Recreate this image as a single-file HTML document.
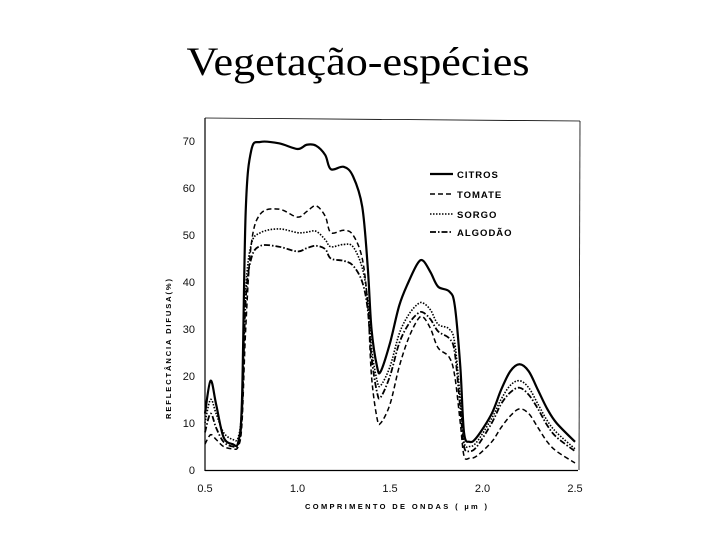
<!DOCTYPE html>
<html><head><meta charset="utf-8"><style>
html,body{margin:0;padding:0;background:#fff;}
svg{display:block;}
</style></head><body>
<svg id="chart" width="720" height="540" viewBox="0 0 720 540">
<text x="358" y="75" text-anchor="middle" font-family="Liberation Serif, serif" font-size="40" textLength="343" lengthAdjust="spacingAndGlyphs">Vegetação-espécies</text>
<g id="frame">
<line x1="205" y1="118" x2="205" y2="471" stroke="#000" stroke-width="1.2"/>
<line x1="205" y1="470.5" x2="578" y2="470.5" stroke="#000" stroke-width="1.2"/>
<line x1="205" y1="118" x2="580" y2="121" stroke="#000" stroke-width="0.8"/>
<line x1="580" y1="121" x2="579" y2="470" stroke="#000" stroke-width="0.8"/>
</g>
<g id="yticks" font-family="Liberation Sans, sans-serif" font-size="11" fill="#111"></g>
<g id="xticks" font-family="Liberation Sans, sans-serif" font-size="11" fill="#111"></g>
<text x="396" y="509" text-anchor="middle" font-family="Liberation Sans, sans-serif" font-size="7.5" font-weight="bold" textLength="182" lengthAdjust="spacing">COMPRIMENTO  DE  ONDAS ( µm )</text>
<text transform="translate(171,349) rotate(-90)" text-anchor="middle" font-family="Liberation Sans, sans-serif" font-size="7.5" font-weight="bold" textLength="140" lengthAdjust="spacing">REFLECTÂNCIA  DIFUSA(%)</text>
<g id="series"></g>
<g id="legend" font-family="Liberation Sans, sans-serif" font-size="9.5" font-weight="bold" letter-spacing="1"></g>
</svg>
<script>
const xs = [0.5,0.53,0.56,0.6,0.65,0.68,0.7,0.72,0.75,0.8,0.9,1.0,1.05,1.1,1.15,1.18,1.25,1.3,1.35,1.38,1.4,1.43,1.45,1.5,1.55,1.6,1.65,1.68,1.72,1.76,1.82,1.85,1.88,1.9,1.93,1.97,2.05,2.1,2.15,2.2,2.25,2.3,2.35,2.4,2.5];
const citros = [12,19,14,7,5.5,6,15,55,68,69.8,69.5,68.3,69.2,69,67,64,64.5,62.5,56,43,30,22,21,27,35,40,44,44.5,42,39,38,35,22,8,6,7,12,17,21,22.5,21,17,13,10,6];
const tomate = [5.5,7.5,6.5,5,4.5,5,10,30,48,54.5,55.5,53.8,55,56.2,54,50.5,51,50,45,35,20,11,10,14,22,28,32,32.5,30,26,24,20,10,3,2.5,3,6,9,11.5,13,12,9,6,4,1.5];
const sorgo = [10,15,12,8,6.5,7,14,38,48,50.5,51.3,50.5,50.6,50.8,49,47.5,48,47.5,43,36,26,19,18,22,29,33,35.3,35.5,34,31,30,27,15,6,5,6,11,15,18,19,17.5,14,10.5,8,4.5];
const algodao = [8,12,9,6,5,5.5,12,36,45,47.7,47.5,46.5,47.2,47.7,47,45,44.5,43.5,40,34,24,16.5,15.5,20,27,31,33.3,33.5,32,29.5,28,25,13,5,4,5,10,14,16.5,17.5,16,13,9.5,7,4];
const yTicks = [0,10,20,30,40,50,60,70];
const xTicks = ["0.5","1.0","1.5","2.0","2.5"];
const seriesNames = ["CITROS","TOMATE","SORGO","ALGODÃO"];

const NS="http://www.w3.org/2000/svg";
function sx(v){return 205+(v-0.5)*185;}
function sy(v){return 470-v*4.7;}
const yg=document.getElementById('yticks');
yTicks.forEach(v=>{const t=document.createElementNS(NS,'text');t.setAttribute('x',195);t.setAttribute('y',sy(v)+4);t.setAttribute('text-anchor','end');t.textContent=v;


yg.appendChild(t);});
const xg=document.getElementById('xticks');
xTicks.forEach(v=>{const t=document.createElementNS(NS,'text');t.setAttribute('x',sx(parseFloat(v)));t.setAttribute('y',492);t.setAttribute('text-anchor','middle');t.textContent=v;


xg.appendChild(t);});
function pathFor(arr){
  const p=xs.map((x,i)=>[sx(x),sy(arr[i])]);
  let d='M'+p[0][0]+','+p[0][1];
  for(let i=0;i<p.length-1;i++){
    const p0=p[i-1]||p[i],p1=p[i],p2=p[i+1],p3=p[i+2]||p2;
    const c1=[p1[0]+(p2[0]-p0[0])/6,p1[1]+(p2[1]-p0[1])/6];
    const c2=[p2[0]-(p3[0]-p1[0])/6,p2[1]-(p3[1]-p1[1])/6];
    d+=' C'+c1.join(',')+' '+c2.join(',')+' '+p2.join(',');
  }
  return d;
}
const styles=[{w:2.2,dash:''},{w:1.5,dash:'5,3'},{w:1.6,dash:'1.5,1.5'},{w:1.8,dash:'6,2,1.5,2'}];
const data=[citros,tomate,sorgo,algodao];
const sg=document.getElementById('series');
const lg=document.getElementById('legend');
const ly=[178,198,218,236];
data.forEach((arr,i)=>{
  const path=document.createElementNS(NS,'path');
  path.setAttribute('d',pathFor(arr));path.setAttribute('fill','none');path.setAttribute('stroke','#000');
  path.setAttribute('stroke-width',styles[i].w);if(styles[i].dash)path.setAttribute('stroke-dasharray',styles[i].dash);
  
  
  sg.appendChild(path);
  const l=document.createElementNS(NS,'line');
  l.setAttribute('x1',430);l.setAttribute('x2',453);l.setAttribute('y1',ly[i]-4);l.setAttribute('y2',ly[i]-4);
  l.setAttribute('stroke','#000');l.setAttribute('stroke-width',styles[i].w);if(styles[i].dash)l.setAttribute('stroke-dasharray',styles[i].dash);
  
  
  lg.appendChild(l);
  const t=document.createElementNS(NS,'text');t.setAttribute('x',457);t.setAttribute('y',ly[i]);t.textContent=seriesNames[i];
  
  
  lg.appendChild(t);
});
</script>
</body></html>
